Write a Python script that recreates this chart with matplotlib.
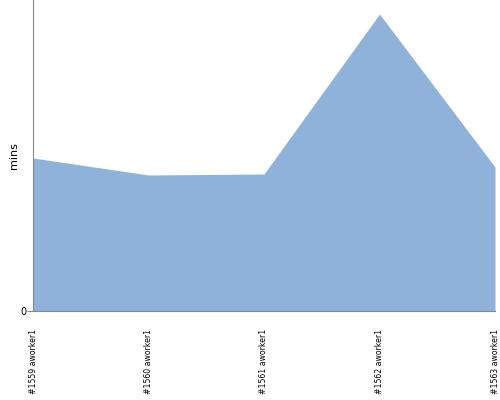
import matplotlib
matplotlib.use("Agg")
import matplotlib.pyplot as plt

labels = ["#1559 aworker1", "#1560 aworker1", "#1561 aworker1", "#1562 aworker1", "#1563 aworker1"]
mins = [15.3, 13.6, 13.7, 29.7, 14.4]

fig = plt.figure(figsize=(5, 4), dpi=100)
ax = fig.add_axes([0.066, 0.2225, 0.924, 0.7775])
x = range(len(labels))
ax.fill_between(x, mins, 0, color="#8fb2db", linewidth=0)
ax.set_xlim(0, len(labels) - 1)
ax.set_ylim(0, 31.1)
ax.set_xticks(list(x))
ax.set_xticklabels(labels, rotation=90, fontsize=5.6)
ax.set_yticks([0])
ax.set_yticklabels(["0"], fontsize=7)
ax.set_ylabel("mins", fontsize=8, labelpad=1)
ax.tick_params(axis="x", length=0, pad=13)
ax.tick_params(axis="y", length=4, pad=1, color="#888888")
for s in ["top", "right"]:
    ax.spines[s].set_visible(False)
for s in ["left", "bottom"]:
    ax.spines[s].set_color("#888888")
    ax.spines[s].set_linewidth(0.8)

plt.savefig("out.png", dpi=100)
